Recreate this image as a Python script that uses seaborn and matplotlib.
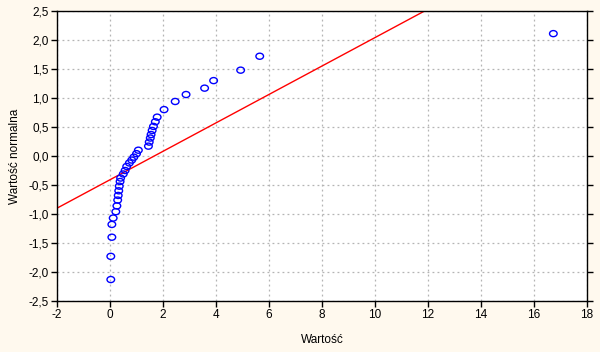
import numpy as np
import pandas as pd
import matplotlib
matplotlib.use("Agg")
import matplotlib.pyplot as plt
import seaborn as sns
from matplotlib.ticker import FixedLocator, FuncFormatter
from matplotlib.path import Path

wartosc = [0.03, 0.03, 0.07, 0.07, 0.12, 0.22, 0.26, 0.29, 0.31, 0.33, 0.35,
           0.38, 0.40, 0.50, 0.57, 0.63, 0.73, 0.82, 0.90, 1.00, 1.07,
           1.45, 1.48, 1.52, 1.55, 1.59, 1.64, 1.71, 1.78, 2.04, 2.46,
           2.87, 3.57, 3.91, 4.93, 5.65, 16.73]
normalna = [-2.13, -1.73, -1.40, -1.18, -1.07, -0.96, -0.86, -0.76, -0.68, -0.60, -0.52,
            -0.44, -0.38, -0.31, -0.25, -0.18, -0.12, -0.07, -0.02, 0.04, 0.10,
            0.17, 0.24, 0.31, 0.37, 0.44, 0.51, 0.59, 0.67, 0.80, 0.94,
            1.06, 1.17, 1.30, 1.48, 1.72, 2.11]

# Reference line parameters (y = (x - mean) / sd)
line_mean = 1.67
line_sd = 4.08

x_ticks = [-2, 0, 2, 4, 6, 8, 10, 12, 14, 16, 18]
y_ticks = [-2.5, -2.0, -1.5, -1.0, -0.5, 0.0, 0.5, 1.0, 1.5, 2.0, 2.5]
x_label = "Wartość"
y_label = "Wartość normalna"

sns.set_theme(style="white")
plt.rcParams["font.family"] = ["Liberation Sans", "DejaVu Sans"]

bg = "#fff9ee"
fig = plt.figure(figsize=(6.0, 3.52), dpi=100, facecolor=bg)
ax = fig.add_axes([57 / 600, 1 - 301 / 352, 530 / 600, 290 / 352])
ax.set_facecolor("white")

df = pd.DataFrame({"x": wartosc, "y": normalna})
lx = np.array([x_ticks[0], x_ticks[-1]], dtype=float)
line_df = pd.DataFrame({"x": lx, "y": (lx - line_mean) / line_sd})

circ = Path.unit_circle()
oval = Path(circ.vertices * np.array([1.0, 0.8]), circ.codes)

sns.lineplot(data=line_df, x="x", y="y", ax=ax, color="#ff0000", linewidth=1.0, zorder=2)
sns.scatterplot(data=df, x="x", y="y", ax=ax, marker=oval, s=30,
                facecolors="none", edgecolor="#0000ff", linewidth=1.0, zorder=3)

ax.set_xlim(x_ticks[0], x_ticks[-1])
ax.set_ylim(y_ticks[0], y_ticks[-1])
ax.xaxis.set_major_locator(FixedLocator(x_ticks))
ax.yaxis.set_major_locator(FixedLocator(y_ticks))
ax.xaxis.set_major_formatter(FuncFormatter(lambda v, p: f"{v:g}"))
ax.yaxis.set_major_formatter(FuncFormatter(lambda v, p: f"{v:.1f}".replace(".", ",")))

ax.grid(True, color="#b4b4b4", linestyle=(0, (1.5, 2.5)), linewidth=0.9)
ax.set_axisbelow(True)
for sp in ax.spines.values():
    sp.set_visible(True)
    sp.set_color("black")
    sp.set_linewidth(1.0)

ax.tick_params(axis="both", which="major", direction="out", length=4, width=1,
               color="black", labelsize=8.5, labelcolor="black", pad=2)
ax.tick_params(axis="y", right=True, left=True, labelright=False)
ax.tick_params(axis="x", top=False, bottom=True, labeltop=False)

ax.set_xlabel(x_label, fontsize=8.5, color="black", labelpad=9)
ax.set_ylabel(y_label, fontsize=8.5, color="black", labelpad=5)

fig.savefig("out.png", dpi=100, facecolor=bg)
